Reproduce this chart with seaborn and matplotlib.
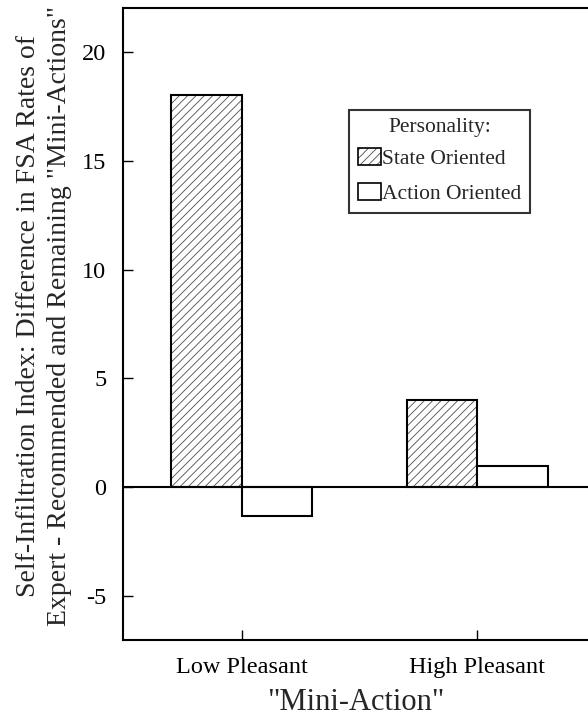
import matplotlib
matplotlib.use("Agg")
import matplotlib.pyplot as plt
from matplotlib.patches import Patch
import seaborn as sns
import pandas as pd

conditions = ["Low Pleasant", "High Pleasant"]
personality = ["State Oriented", "Action Oriented"]
state_vals = [18.0, 4.0]
action_vals = [-1.3, 1.0]
yticks = [-5, 0, 5, 10, 15, 20]

df = pd.DataFrame({
    "cond": conditions * 2,
    "pers": [personality[0]] * 2 + [personality[1]] * 2,
    "val": state_vals + action_vals,
})

sns.set_style("ticks")
plt.rcParams["font.family"] = ["Liberation Serif", "DejaVu Serif"]
plt.rcParams["axes.unicode_minus"] = False
plt.rcParams["hatch.linewidth"] = 0.6

HATCH_COLOR = (0.3, 0.3, 0.3, 1.0)


def set_hatch_color(p):
    if hasattr(p, "set_hatchcolor"):
        p.set_hatchcolor(HATCH_COLOR)
    else:
        p._hatch_color = HATCH_COLOR


fig = plt.figure(figsize=(5.88, 7.19), dpi=100)
ax = fig.add_axes([123 / 588, 1 - 640 / 719, (588 - 123) / 588, (640 - 8) / 719])

sns.barplot(data=df, x="cond", y="val", hue="pers", order=conditions,
            hue_order=personality, palette=["white", "white"], saturation=1,
            width=0.6, edgecolor="black", linewidth=1.5, legend=False, ax=ax)

for bar in ax.containers[0]:
    bar.set_hatch("////")
    set_hatch_color(bar)

ax.axhline(0, color="black", lw=1.5, zorder=5)

ax.set_xlim(-0.506, 1.472)
ax.set_ylim(-7, 22)
ax.set_yticks(yticks)
ax.set_yticklabels([str(v) for v in yticks])
ax.tick_params(axis="both", direction="in", length=7, width=1, labelsize=17.5,
               colors="black")
ax.tick_params(axis="y", pad=12)
ax.tick_params(axis="x", pad=12)
for s in ["left", "bottom", "top"]:
    ax.spines[s].set_visible(True)
    ax.spines[s].set_linewidth(1.5)
    ax.spines[s].set_color("black")
ax.spines["right"].set_visible(False)

ax.set_xlabel('"Mini-Action"', fontsize=22, labelpad=7.5)
ax.set_ylabel('Self-Infiltration Index: Difference in FSA Rates of\n'
              'Expert - Recommended and Remaining "Mini-Actions"',
              fontsize=20, linespacing=1.35, va="center")
ax.yaxis.set_label_coords(-0.170, 0.513)

h1 = Patch(facecolor="white", edgecolor="black", hatch="////", lw=1.2)
set_hatch_color(h1)
handles = [h1, Patch(facecolor="white", edgecolor="black", lw=1.2)]
leg = ax.legend(handles, personality, title="Personality:", loc="upper left",
                bbox_to_anchor=(0.486, 0.839), fontsize=15.5, title_fontsize=15.5,
                frameon=True, fancybox=False, edgecolor="black",
                handlelength=1.1, handleheight=0.8, handletextpad=0.05,
                borderpad=0.4, labelspacing=0.65, borderaxespad=0)
leg.get_frame().set_linewidth(1.5)
leg._legend_box.sep = 8

fig.savefig("out.png", dpi=100)
